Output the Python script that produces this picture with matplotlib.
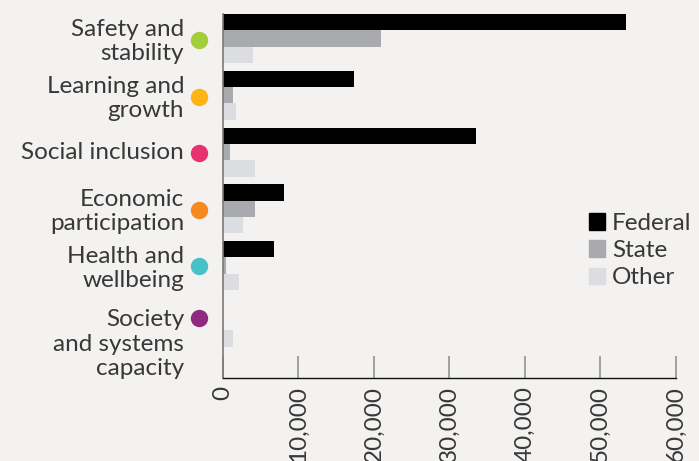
import matplotlib
matplotlib.use("Agg")
import matplotlib.pyplot as plt
import matplotlib.transforms as mtransforms
from matplotlib.patches import Patch
import numpy as np

categories = ["Safety and\nstability", "Learning and\ngrowth", "Social inclusion",
              "Economic\nparticipation", "Health and\nwellbeing",
              "Society\nand systems\ncapacity"]
dot_colors = ["#a3cd3b", "#fdb515", "#e8316f", "#f58a22", "#47c1c8", "#8e2b7f"]
federal = [53400, 17400, 33500, 8100, 6800, 0]
state = [20900, 1400, 1000, 4300, 500, 0]
other = [4000, 1800, 4300, 2700, 2200, 1300]
xticks = [0, 10000, 20000, 30000, 40000, 50000, 60000]

bg = "#f3f2f0"
txt = "#383838"
plt.rcParams["font.family"] = ["Lato", "DejaVu Sans"]

fig = plt.figure(figsize=(6.99, 4.61), dpi=100, facecolor=bg)
ax = fig.add_axes([0.3186, 0.18, 0.6485, 0.7896])
ax.set_facecolor(bg)

y = np.arange(len(categories))
h = 0.288
ax.barh(y - h, federal, height=h, color="#000000", label="Federal")
ax.barh(y, state, height=h, color="#a9aaad", label="State")
ax.barh(y + h, other, height=h, color="#dcdde0", label="Other")

ax.set_xlim(0, 60000)
ax.set_ylim(5.986, -0.434)
ax.set_xticks(xticks)
ax.set_xticklabels([f"{v:,}" for v in xticks], rotation=90, fontsize=17.5, color=txt)
ax.tick_params(axis="x", direction="in", length=16, width=1.1, color="#8a8a8a", pad=6)
ax.set_yticks([])

for s in ["top", "right"]:
    ax.spines[s].set_visible(False)
ax.spines["left"].set_color("#7a7a7a")
ax.spines["left"].set_linewidth(1.2)
ax.spines["bottom"].set_color("#111111")
ax.spines["bottom"].set_linewidth(1.0)

# category labels and coloured dots left of the axis
trans = mtransforms.blended_transform_factory(ax.transAxes, ax.transData)
label_dy = [-3, -3, 0, -3, -3, -22]
dot_dy = [-1, -2, -1, -1, -1, 4]
for i, (lab, c) in enumerate(zip(categories, dot_colors)):
    t = mtransforms.offset_copy(trans, fig=fig, x=0, y=label_dy[i] * 0.72, units="points")
    ax.text(-0.085, i, lab, transform=t, ha="right", va="center", fontsize=17.5,
            color=txt, linespacing=1.2)
    td = mtransforms.offset_copy(trans, fig=fig, x=0, y=dot_dy[i] * 0.72, units="points")
    ax.plot([-0.0523], [i], "o", ms=11.5, color=c, transform=td, clip_on=False)

handles = [Patch(color="#000000"), Patch(color="#a9aaad"), Patch(color="#dcdde0")]
leg = fig.legend(handles, ["Federal", "State", "Other"], loc="upper left",
                 bbox_to_anchor=(589 / 699, 1 - 213 / 461), frameon=False,
                 fontsize=17.5, borderpad=0, borderaxespad=0, handlelength=0.65,
                 handleheight=0.65, handletextpad=0.3, labelspacing=0.25)
for t in leg.get_texts():
    t.set_color(txt)

fig.savefig("out.png", dpi=100, facecolor=bg)
